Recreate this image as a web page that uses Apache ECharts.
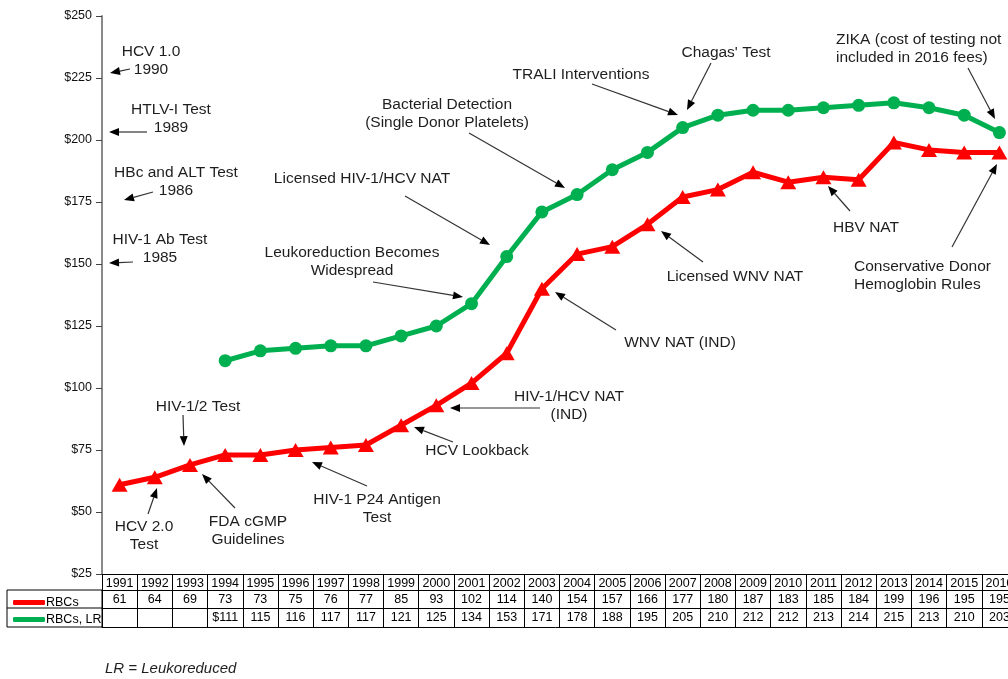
<!DOCTYPE html>
<html>
<head>
<meta charset="utf-8">
<script src="https://cdn.jsdelivr.net/npm/echarts@6/dist/echarts.min.js"></script>
<style>
  html, body { margin: 0; background: #fff; }
  #main { width: 1008px; height: 679px; }
</style>
</head>
<body>
<div id="main"></div>
<script>
// data (cost per unit, US$)
var years = ['1991', '1992', '1993', '1994', '1995', '1996', '1997', '1998', '1999', '2000', '2001', '2002', '2003',
             '2004', '2005', '2006', '2007', '2008', '2009', '2010', '2011', '2012', '2013', '2014', '2015', '2016'];
var rbcs = [61, 64, 69, 73, 73, 75, 76, 77, 85, 93, 102, 114, 140, 154, 157, 166, 177, 180, 187, 183, 185, 184, 199, 196, 195, 195];
var rbcsLR = [null, null, null, 111, 115, 116, 117, 117, 121, 125, 134, 153, 171, 178, 188, 195, 205, 210, 212, 212, 213, 214, 215, 213, 210, 203];
var yMin = 25, yMax = 250, yStep = 25;

// event notes: text centre, text, arrow start -> arrow tip (pixels)
var notes = [
  { t: 'HCV 1.0\n1990', x: 151, y: 61, from: [130, 69], to: [110, 73] },
  { t: 'HTLV-I Test\n1989', x: 171, y: 119, from: [147, 132], to: [109, 132] },
  { t: 'HBc and ALT Test\n1986', x: 176, y: 182, from: [153, 192], to: [124, 200] },
  { t: 'HIV-1 Ab Test\n1985', x: 160, y: 249, from: [133, 262], to: [109, 263] },
  { t: 'HIV-1/2 Test', x: 198, y: 407, from: [183, 415], to: [184, 446] },
  { t: 'HCV 2.0\nTest', x: 144, y: 536, from: [148, 514], to: [157, 488] },
  { t: 'FDA cGMP\nGuidelines', x: 248, y: 531, from: [235, 508], to: [202, 474] },
  { t: 'HIV-1 P24 Antigen\nTest', x: 377, y: 509, from: [367, 486], to: [312, 462] },
  { t: 'HCV Lookback', x: 477, y: 451, from: [453, 442], to: [414, 427] },
  { t: 'HIV-1/HCV NAT\n(IND)', x: 569, y: 406, from: [540, 408], to: [450, 408] },
  { t: 'WNV NAT (IND)', x: 680, y: 343, from: [616, 330], to: [555, 292] },
  { t: 'Leukoreduction Becomes\nWidespread', x: 352, y: 262, from: [373, 282], to: [463, 297] },
  { t: 'Licensed HIV-1/HCV NAT', x: 362, y: 179, from: [405, 196], to: [490, 245] },
  { t: 'Bacterial Detection\n(Single Donor Platelets)', x: 447, y: 114, from: [469, 133], to: [565, 188] },
  { t: 'TRALI Interventions', x: 581, y: 75, from: [592, 84], to: [678, 115] },
  { t: "Chagas' Test", x: 726, y: 53, from: [711, 63], to: [687, 110] },
  { t: 'ZIKA (cost of testing not\nincluded in 2016 fees)', x: 836, y: 49, left: true, from: [968, 68], to: [995, 119] },
  { t: 'Licensed WNV NAT', x: 735, y: 277, from: [703, 262], to: [661, 231] },
  { t: 'HBV NAT', x: 866, y: 228, from: [850, 211], to: [828, 186] },
  { t: 'Conservative Donor\nHemoglobin Rules', x: 854, y: 276, left: true, from: [952, 247], to: [997, 164] }
];

var font = '"Liberation Sans", Arial, sans-serif';
var ink = '#1e1e1e';

function arrowGraphics(n) {
  var dx = n.to[0] - n.from[0], dy = n.to[1] - n.from[1];
  var len = Math.sqrt(dx * dx + dy * dy);
  var ux = dx / len, uy = dy / len;
  var bx = n.to[0] - ux * 10, by = n.to[1] - uy * 10;
  var px = -uy * 4, py = ux * 4;
  return [
    { type: 'line', silent: true, shape: { x1: n.from[0], y1: n.from[1], x2: bx, y2: by },
      style: { stroke: '#333', lineWidth: 1.2 } },
    { type: 'polygon', silent: true,
      shape: { points: [[n.to[0], n.to[1]], [bx + px, by + py], [bx - px, by - py]] },
      style: { fill: '#000' } }
  ];
}

var graphics = [];
notes.forEach(function (n) {
  graphics.push({
    type: 'text', silent: true, x: n.x, y: n.y,
    style: { text: n.t, fill: ink, font: '15.5px ' + font, lineHeight: 18,
             align: n.left ? 'left' : 'center', verticalAlign: 'middle' }
  });
  graphics = graphics.concat(arrowGraphics(n));
});
// legend box at the left of the table
graphics.push({ type: 'rect', silent: true, shape: { x: 7, y: 590, width: 95, height: 37 },
                style: { fill: 'none', stroke: '#000', lineWidth: 1 } });
graphics.push({ type: 'line', silent: true, shape: { x1: 7, y1: 608, x2: 102, y2: 608 },
                style: { stroke: '#000', lineWidth: 1 } });
graphics.push({ type: 'text', silent: true, x: 105, y: 669,
                style: { text: 'LR = Leukoreduced', fill: ink, font: 'italic 15px ' + font, verticalAlign: 'middle' } });

function tableAxis(labels, offset, tickLen, showLabel) {
  return {
    type: 'category', gridIndex: 0, position: 'bottom', offset: offset,
    data: labels, boundaryGap: true,
    axisLine: { show: true, lineStyle: { color: '#000', width: 1 } },
    axisTick: { show: tickLen > 0, interval: 0, length: tickLen, lineStyle: { color: '#000' } },
    axisLabel: { show: showLabel, interval: 0, margin: 3, color: '#000', fontSize: 12.5, fontFamily: font },
    splitLine: { show: false }
  };
}

var lrLabels = rbcsLR.map(function (v, i) {
  if (v == null) return '';
  return (i > 0 && rbcsLR[i - 1] == null) ? '$' + v : String(v);
});

var option = {
  backgroundColor: '#fff',
  animation: false,
  // plot runs past the right edge of the page, as in the source image
  grid: { left: 102, width: 915, top: 16, bottom: 105, containLabel: false, outerBoundsMode: 'none' },
  legend: {
    orient: 'vertical', left: 8, top: 591, itemWidth: 32, itemHeight: 5, itemGap: 4,
    icon: 'roundRect', selectedMode: false,
    textStyle: { color: '#000', fontSize: 12.5, fontFamily: font, padding: [0, 0, 0, -4] },
    data: ['RBCs', 'RBCs, LR']
  },
  xAxis: [
    tableAxis(years, 0, 16, true),
    tableAxis(rbcs.map(String), 16, 18, true),
    tableAxis(lrLabels, 34, 19, true),
    tableAxis(years, 53, 0, false)
  ],
  yAxis: {
    type: 'value', min: yMin, max: yMax, interval: yStep,
    axisLine: { show: true, lineStyle: { color: '#8a8a8a', width: 2 } },
    axisTick: { show: true, length: 6, lineStyle: { color: '#444' } },
    axisLabel: { formatter: '${value}', color: '#111', fontSize: 12.5, fontFamily: font, margin: 10 },
    splitLine: { show: false }
  },
  series: [
    {
      name: 'RBCs', type: 'line', xAxisIndex: 0, data: rbcs,
      symbol: 'triangle', symbolSize: [16, 14], itemStyle: { color: '#ff0000' },
      lineStyle: { color: '#ff0000', width: 5 }, z: 3
    },
    {
      name: 'RBCs, LR', type: 'line', xAxisIndex: 0, data: rbcsLR,
      symbol: 'circle', symbolSize: 13, itemStyle: { color: '#00b050' },
      lineStyle: { color: '#00b050', width: 5 }, z: 2
    }
  ],
  graphic: graphics
};

var chart = echarts.init(document.getElementById('main'));
chart.setOption(option);
</script>
</body>
</html>
